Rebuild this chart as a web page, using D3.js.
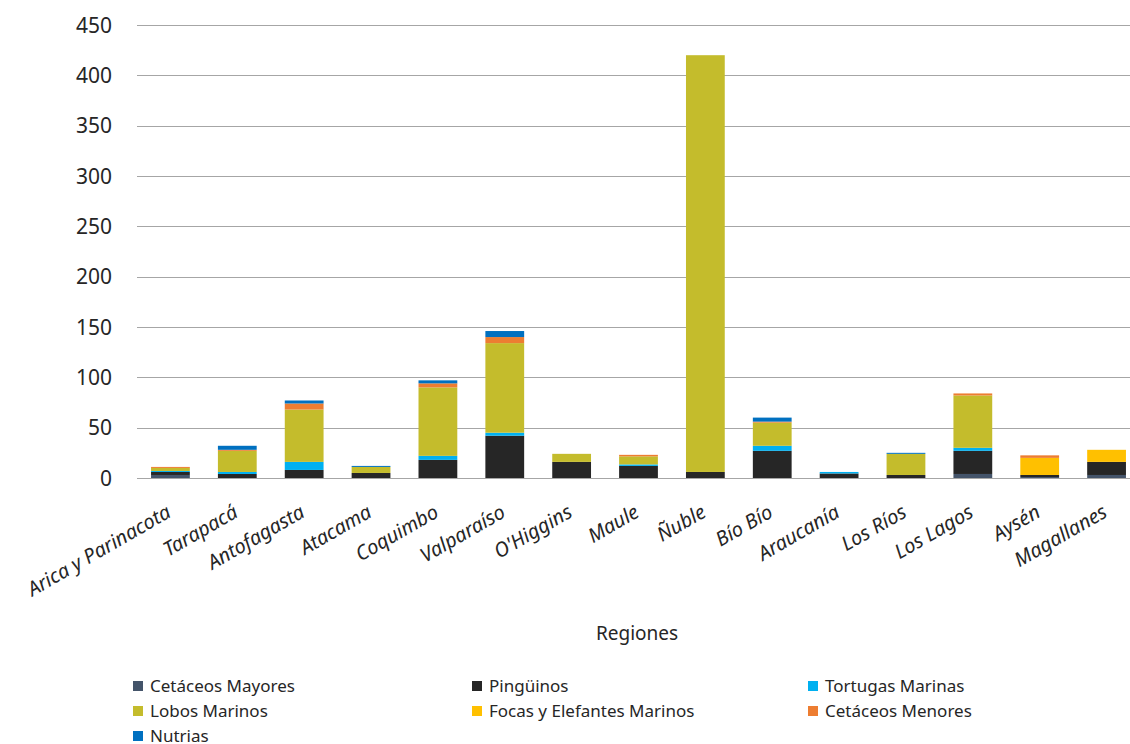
<!DOCTYPE html>
<meta charset="utf-8">
<style>
body { margin: 0; background: #fff; }
svg { font-family: "Noto Sans", "Open Sans", sans-serif; }
.grid line { stroke: #a6a6a6; stroke-width: 1px; }
.ytick { font-size: 21px; fill: #262626; }
.xtick { font-size: 20px; font-style: italic; fill: #262626; }
.legend text { font-size: 17px; fill: #262626; }
</style>
<body>
<svg width="1130" height="744"></svg>
<script src="https://cdn.jsdelivr.net/npm/d3@7"></script>
<script>

var regions = ["Arica y Parinacota", "Tarapacá", "Antofagasta", "Atacama", "Coquimbo",
  "Valparaíso", "O'Higgins", "Maule", "Ñuble", "Bío Bío", "Araucanía", "Los Ríos",
  "Los Lagos", "Aysén", "Magallanes"];

var seriesNames = ["Cetáceos Mayores", "Pingüinos", "Tortugas Marinas", "Lobos Marinos",
  "Focas y Elefantes Marinos", "Cetáceos Menores", "Nutrias"];

var colors = ["#44546a", "#262626", "#00b0f0", "#c4bc2c", "#ffc000", "#ed7d31", "#0070c0"];

// values per region, in region order
var cetaceosMayores = [3, 0, 0, 0, 0, 0, 0, 0, 0, 0, 0, 0, 4, 1, 3];
var pinguinos       = [3, 4, 8, 5, 18, 42, 16, 12, 6, 27, 4.5, 3, 23, 2, 13];
var tortugas        = [1, 2, 8, 0, 4, 3, 0, 1.5, 0, 5, 1.5, 0, 3, 0, 0];
var lobos           = [3, 21, 52, 6, 68, 89, 8, 8, 414, 23, 0, 21, 52, 0, 0];
var focas           = [0, 0, 0, 0, 0, 0, 0, 0, 0, 0, 0, 0, 0, 17, 12];
var cetaceosMenores = [1, 1, 6, 0, 4, 6, 0, 1.5, 0, 1, 0, 0, 2, 2.5, 0];
var nutrias         = [0, 4, 3, 1, 3, 6, 0, 0, 0, 4, 0, 1, 0, 0, 0];

var yTicks = [0, 50, 100, 150, 200, 250, 300, 350, 400, 450];

var allSeries = [cetaceosMayores, pinguinos, tortugas, lobos, focas, cetaceosMenores, nutrias];

var table = regions.map(function(r, i) {
  var row = {region: r};
  seriesNames.forEach(function(s, j) { row[s] = allSeries[j][i]; });
  return row;
});

var stacked = d3.stack().keys(seriesNames)(table);

var svg = d3.select("svg");
var plotLeft = 137, plotRight = 1140, plotTop = 25, plotBottom = 478;

var x = d3.scaleBand().domain(regions).range([plotLeft, plotRight]).paddingInner(0.42).paddingOuter(0.21);
var y = d3.scaleLinear().domain([0, 450]).range([plotBottom, plotTop]);

// gridlines
svg.append("g").attr("class", "grid")
  .selectAll("line").data(yTicks).enter().append("line")
    .attr("x1", plotLeft).attr("x2", plotRight)
    .attr("y1", function(d) { return Math.round(y(d)) + 0.5; })
    .attr("y2", function(d) { return Math.round(y(d)) + 0.5; });

// y labels
svg.append("g").selectAll("text").data(yTicks).enter().append("text")
  .attr("class", "ytick")
  .attr("x", 112)
  .attr("y", function(d) { return y(d); })
  .attr("dy", "0.36em")
  .attr("text-anchor", "end")
  .text(function(d) { return d; });

// bars
svg.append("g").selectAll("g").data(stacked).enter().append("g")
    .attr("fill", function(d, i) { return colors[i]; })
  .selectAll("rect").data(function(d) { return d; }).enter().append("rect")
    .attr("x", function(d) { return x(d.data.region); })
    .attr("width", x.bandwidth())
    .attr("y", function(d) { return y(d[1]); })
    .attr("height", function(d) { return y(d[0]) - y(d[1]); });

// x labels
svg.append("g").selectAll("text").data(regions).enter().append("text")
  .attr("class", "xtick")
  .attr("text-anchor", "end")
  .attr("transform", function(d) {
    return "translate(" + (x(d) + x.bandwidth() / 2 + 2) + "," + 516 + ") rotate(-30)";
  })
  .text(function(d) { return d; });

svg.append("text")
  .attr("x", 637).attr("y", 640)
  .attr("text-anchor", "middle")
  .style("font-size", "19px").style("fill", "#262626")
  .text("Regiones");

// legend
var legX = [133, 472, 808];
var legend = svg.append("g").attr("class", "legend")
  .selectAll("g").data(seriesNames).enter().append("g")
    .attr("transform", function(d, i) {
      return "translate(" + legX[i % 3] + "," + (686 + Math.floor(i / 3) * 25) + ")";
    });
legend.append("rect")
  .attr("x", 0).attr("y", -5).attr("width", 10).attr("height", 10)
  .attr("fill", function(d, i) { return colors[i]; });
legend.append("text")
  .attr("x", 17).attr("y", 0).attr("dy", "0.35em")
  .text(function(d) { return d; });

</script>
</body>
